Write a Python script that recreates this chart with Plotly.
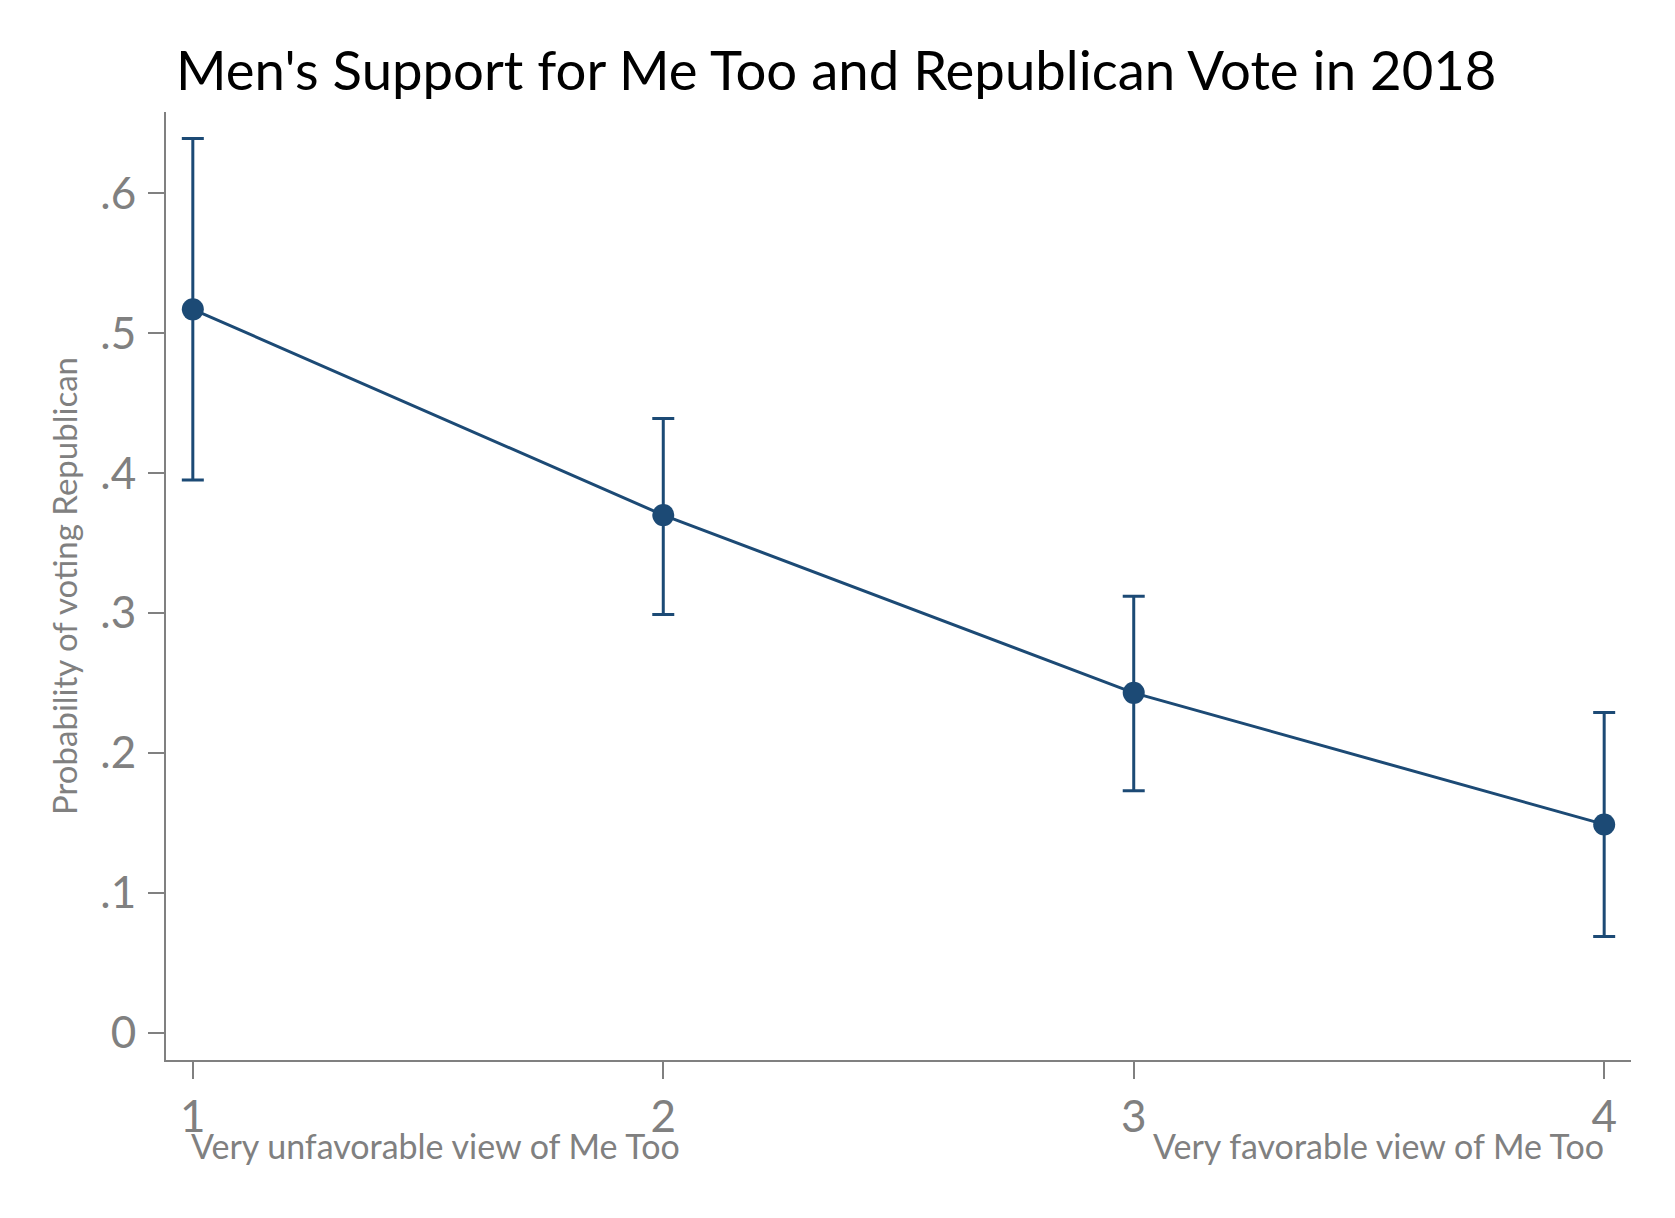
import plotly.graph_objects as go

levels = [1, 2, 3, 4]
prob = [0.517, 0.370, 0.243, 0.149]
upper = [0.639, 0.439, 0.312, 0.229]
lower = [0.395, 0.299, 0.173, 0.069]

ytick_vals = [0, 0.1, 0.2, 0.3, 0.4, 0.5, 0.6]
ytick_text = ['0', '.1', '.2', '.3', '.4', '.5', '.6']
xtick_text = ['1', '2', '3', '4']

navy = '#1c4a75'
grey = '#808080'
font = 'Lato'

fig = go.Figure()
fig.add_trace(go.Scatter(
    x=levels, y=prob,
    mode='lines+markers',
    line={'color': navy, 'width': 3},
    marker={'color': navy, 'size': 22},
    error_y=dict(
        type='data', symmetric=False,
        array=[u - p for u, p in zip(upper, prob)],
        arrayminus=[p - l for p, l in zip(prob, lower)],
        color=navy, thickness=3, width=11),
    showlegend=False))

# end labels under the first and last ticks
fig.add_annotation(x=1, y=-0.066, xref='x', yref='paper', xanchor='left', yanchor='top',
                   text='Very unfavorable view of Me Too', showarrow=False, xshift=-4,
                   font={'family': font, 'size': 34, 'color': grey})
fig.add_annotation(x=4, y=-0.066, xref='x', yref='paper', xanchor='right', yanchor='top',
                   text='Very favorable view of Me Too', showarrow=False, xshift=2,
                   font={'family': font, 'size': 34, 'color': grey})

# page body adds an 8px offset, so the figure is 8px smaller than the window
fig.update_layout(
    width=1667, height=1210,
    paper_bgcolor='white', plot_bgcolor='white',
    margin={'l': 158, 'r': 44, 't': 104, 'b': 158},
    title={'text': "Men's Support for Me Too and Republican Vote in 2018",
           'x': 168 / 1667, 'xanchor': 'left', 'y': 1 - 63 / 1210, 'yanchor': 'middle',
           'font': {'family': font, 'size': 54.5, 'color': 'black'}},
    xaxis=dict(range=[0.943, 4.057], tickvals=levels, ticktext=xtick_text,
               showgrid=False, zeroline=False, showline=True, linecolor=grey, linewidth=2,
               ticks='outside', ticklen=17, tickwidth=1.5, tickcolor=grey,
               tickfont={'family': font, 'size': 44, 'color': grey}),
    yaxis=dict(range=[-0.0193, 0.658], tickvals=ytick_vals, ticktext=ytick_text,
               showgrid=False, zeroline=False, showline=True, linecolor=grey, linewidth=2,
               ticks='outside', ticklen=16, tickwidth=2, tickcolor=grey,
               ticklabelstandoff=3,
               tickfont={'family': font, 'size': 44, 'color': grey},
               title={'text': 'Probability of voting Republican', 'standoff': 13,
                      'font': {'family': font, 'size': 33, 'color': grey}}),
)

fig.write_html("out.html")
